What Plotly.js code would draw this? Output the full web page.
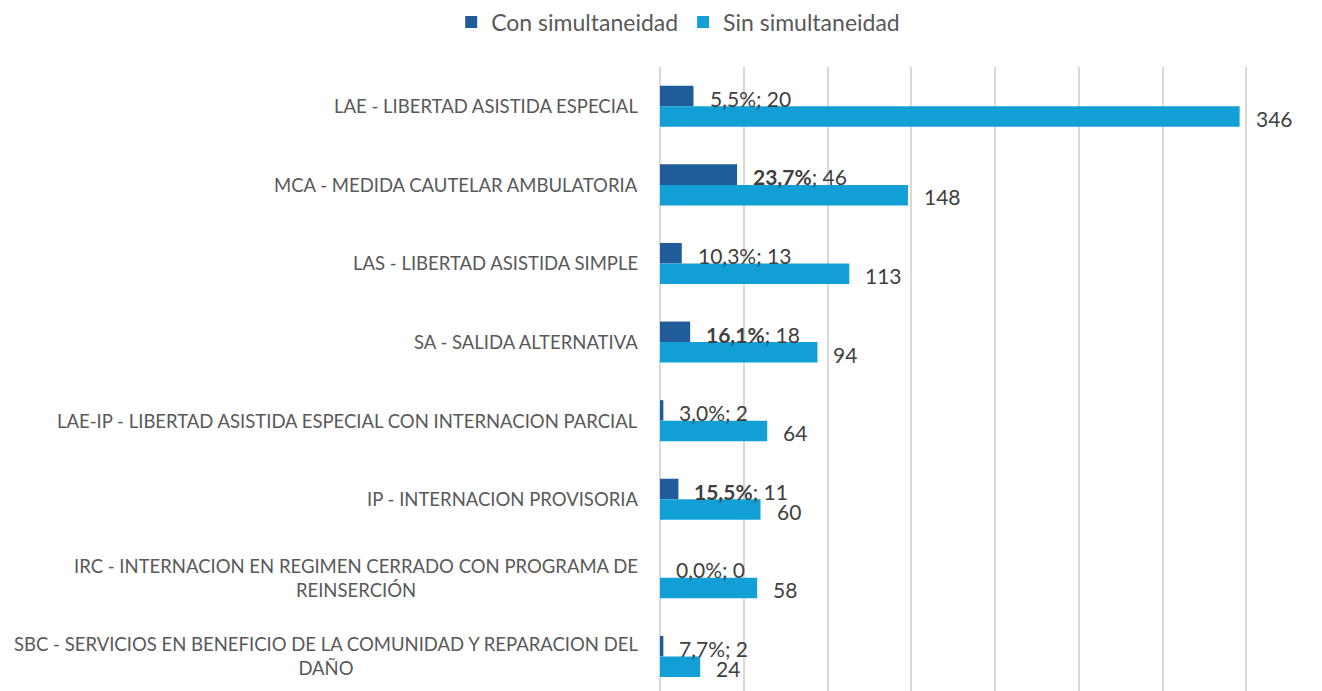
<!DOCTYPE html>
<html>
<head>
<meta charset="utf-8">
<script src="https://cdn.plot.ly/plotly-3.0.1.min.js"></script>
<style>html,body{margin:0;padding:0;background:#fff;}#chart{width:1322px;height:691px;}</style>
</head>
<body>
<div id="chart"></div>
<script>
const categories = [
  "LAE - LIBERTAD ASISTIDA ESPECIAL",
  "MCA - MEDIDA CAUTELAR AMBULATORIA",
  "LAS - LIBERTAD ASISTIDA SIMPLE",
  "SA - SALIDA ALTERNATIVA",
  "LAE-IP - LIBERTAD ASISTIDA ESPECIAL CON INTERNACION PARCIAL",
  "IP - INTERNACION PROVISORIA",
  "IRC - INTERNACION EN REGIMEN CERRADO CON PROGRAMA DE<br>REINSERCIÓN",
  "SBC - SERVICIOS EN BENEFICIO DE LA COMUNIDAD Y REPARACION DEL<br>DAÑO"
];
const conSimultaneidad = [20, 46, 13, 18, 2, 11, 0, 2];
const sinSimultaneidad = [346, 148, 113, 94, 64, 60, 58, 24];
const pctSimultaneidad = ["5,5%", "23,7%", "10,3%", "16,1%", "3,0%", "15,5%", "0,0%", "7,7%"];
const seriesNames = ["Con simultaneidad", "Sin simultaneidad"];

const darkColor = "#1F5C99";
const lightColor = "#119FD6";
const textColor = "#404040";
const catColor = "#595959";
const fontFamily = "Lato, 'Open Sans', sans-serif";

const traces = [
  {type: "bar", orientation: "h", name: seriesNames[0], y: categories, x: conSimultaneidad,
   marker: {color: darkColor}, hoverinfo: "none"},
  {type: "bar", orientation: "h", name: seriesNames[1], y: categories, x: sinSimultaneidad,
   marker: {color: lightColor}, hoverinfo: "none"}
];

const annotations = [];
categories.forEach((c, i) => {
  annotations.push({
    xref: "paper", yref: "y", x: 0, y: c, xanchor: "right", yanchor: "middle",
    xshift: -20, text: c, showarrow: false, align: "center",
    font: {family: fontFamily, size: 18.5, color: catColor}
  });
  const pNum = parseFloat(pctSimultaneidad[i].replace(",", "."));
  const pTxt = pNum > 15 ? "<b>" + pctSimultaneidad[i] + "</b>" : pctSimultaneidad[i];
  annotations.push({
    xref: "x", yref: "y", x: conSimultaneidad[i], y: c, xanchor: "left", yanchor: "middle",
    xshift: 14, yshift: 8, text: pTxt + "; " + conSimultaneidad[i], showarrow: false,
    font: {family: fontFamily, size: 21, color: textColor}
  });
  annotations.push({
    xref: "x", yref: "y", x: sinSimultaneidad[i], y: c, xanchor: "left", yanchor: "middle",
    xshift: 14, yshift: -12, text: String(sinSimultaneidad[i]), showarrow: false,
    font: {family: fontFamily, size: 21, color: textColor}
  });
});

const layout = {
  width: 1322, height: 691,
  margin: {l: 660, r: 74, t: 67, b: 0, pad: 0},
  paper_bgcolor: "#fff", plot_bgcolor: "#fff",
  barmode: "group", bargap: 0.478, bargroupgap: 0,
  font: {family: fontFamily, color: textColor},
  xaxis: {range: [0, 351], tick0: 0, dtick: 50, showgrid: true, gridcolor: "#D9D9D9", gridwidth: 2,
          zeroline: true, zerolinecolor: "#D9D9D9", zerolinewidth: 2,
          showticklabels: false, ticks: "", showline: false, fixedrange: true},
  yaxis: {type: "category", range: [7.44, -0.5], showticklabels: false, ticks: "",
          showgrid: false, zeroline: false, showline: false, fixedrange: true},
  showlegend: true,
  legend: {orientation: "h", xref: "container", yref: "container", x: 0.513, y: 0.968,
           xanchor: "center", yanchor: "middle", traceorder: "normal",
           font: {family: fontFamily, size: 23, color: catColor}, itemwidth: 30},
  annotations: annotations
};

Plotly.newPlot("chart", traces, layout, {displayModeBar: false, staticPlot: true});
</script>
</body>
</html>
